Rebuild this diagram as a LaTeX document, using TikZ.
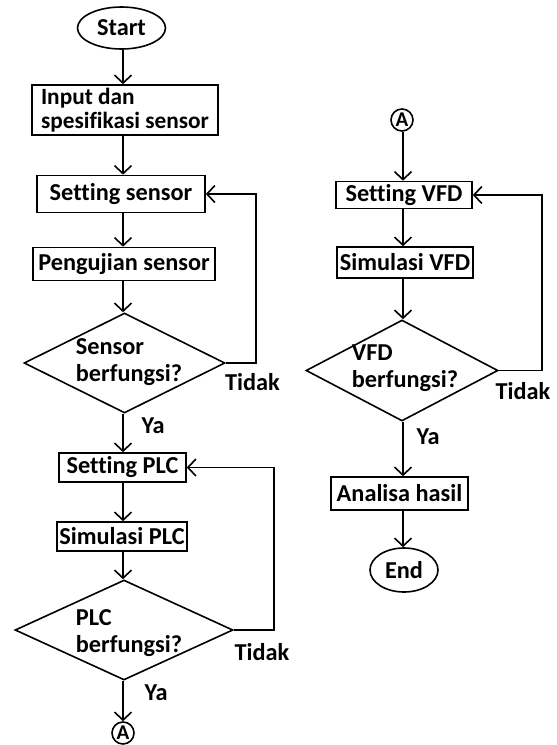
\documentclass[tikz,border=0pt]{standalone}
\usepackage{fontspec}
\setmainfont{Carlito}[Ligatures=NoCommon]
\usetikzlibrary{shapes.geometric,arrows.meta,calc}
\begin{document}
\begin{tikzpicture}[x=1pt,y=-1pt,
  every node/.style={font=\bfseries\fontsize{24.3}{27}\selectfont, inner sep=0pt, text=black},
  proc/.style={draw, rectangle, line width=1.6pt, align=left},
  term/.style={draw, ellipse, line width=1.6pt},
  dec/.style={draw, diamond, line width=1.6pt},
  conn/.style={draw, circle, line width=1.6pt, minimum size=22pt, font=\bfseries\fontsize{21}{22}\selectfont},
  flow/.style={line width=1.6pt, -{Straight Barb[length=8pt,width=17pt]}}
]
\useasboundingbox (0,0) rectangle (557,745);
% left column
\node[term, minimum width=88pt, minimum height=42pt] (start) at (121.5,28) {Start};
\node[proc, minimum width=186pt, minimum height=50pt, font=\bfseries\fontsize{23.3}{24}\selectfont] (input) at (125,110) {Input dan\\spesifikasi sensor};
\node[proc, minimum width=168pt, minimum height=37pt] (setsens) at (121,194) {Setting sensor};
\node[proc, minimum width=182pt, minimum height=33pt] (peng) at (124,264) {Pengujian sensor};
\node[dec, minimum width=201pt, minimum height=100pt] (d1) at (124.5,363) {};
\node[align=left] (d1t) at (129,362) {Sensor\\berfungsi?};
\node (tidak1) at (252.5,382) {Tidak};
\node (ya1) at (153,426) {Ya};
\node[proc, minimum width=127pt, minimum height=29pt] (setplc) at (122.5,467.5) {Setting PLC};
\node[proc, minimum width=130pt, minimum height=29pt] (simplc) at (122,536.5) {Simulasi PLC};
\node[dec, minimum width=218pt, minimum height=100pt] (d2) at (124,630) {};
\node[align=left] (d2t) at (129,633) {PLC\\berfungsi?};
\node (tidak2) at (262,652) {Tidak};
\node (ya2) at (156,693) {Ya};
\node[conn] (a1) at (123,733) {A};
% right column
\node[conn] (a2) at (402,120) {A};
\node[proc, minimum width=136pt, minimum height=27pt] (setvfd) at (404,195) {Setting VFD};
\node[proc, minimum width=136pt, minimum height=31pt] (simvfd) at (405,262.5) {Simulasi VFD};
\node[dec, minimum width=192pt, minimum height=101pt] (d3) at (402,370.5) {};
\node[align=left] (d3t) at (405,368) {VFD\\berfungsi?};
\node (tidak3) at (523,391) {Tidak};
\node (ya3) at (428,437) {Ya};
\node[proc, minimum width=137pt, minimum height=33pt] (analisa) at (399.5,493.5) {Analisa hasil};
\node[term, minimum width=68pt, minimum height=44pt] (end) at (404,570) {End};
% connectors left
\coordinate (cl) at (123,0);
\draw[flow] (cl |- start.south) -- (cl |- input.north);
\draw[flow] (cl |- input.south) -- (cl |- setsens.north);
\draw[flow] (cl |- setsens.south) -- (cl |- peng.north);
\draw[flow] (cl |- peng.south) -- (cl |- d1.north);
\draw[flow] (cl |- d1.south) -- (cl |- setplc.north);
\draw[flow] (cl |- setplc.south) -- (cl |- simplc.north);
\draw[flow] (cl |- simplc.south) -- (cl |- d2.north);
\draw[flow] (cl |- d2.south) -- (a1.north);
\coordinate (r1) at (256,0);
\draw[flow] (d1.east) -- (r1 |- d1.east) -- (r1 |- setsens.east) -- (setsens.east);
\coordinate (r2) at (274,0);
\draw[flow] (d2.east) -- (r2 |- d2.east) -- (r2 |- setplc.east) -- (setplc.east);
% connectors right
\coordinate (cr) at (403,0);
\draw[flow] (cr |- a2.south) -- (cr |- setvfd.north);
\draw[flow] (cr |- setvfd.south) -- (cr |- simvfd.north);
\draw[flow] (cr |- simvfd.south) -- (cr |- d3.north);
\draw[flow] (cr |- d3.south) -- (cr |- analisa.north);
\draw[flow] (cr |- analisa.south) -- (cr |- end.north);
\coordinate (r3) at (542,0);
\draw[flow] (d3.east) -- (r3 |- d3.east) -- (r3 |- setvfd.east) -- (setvfd.east);
\end{tikzpicture}
\end{document}
